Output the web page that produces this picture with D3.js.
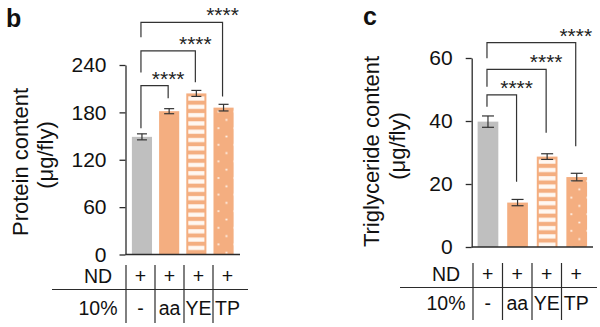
<!DOCTYPE html>
<html>
<head>
<meta charset="utf-8">
<script src="https://cdn.jsdelivr.net/npm/d3@7"></script>
<style>
  html, body { margin: 0; padding: 0; background: #fff; }
  svg { display: block; font-family: "Liberation Sans", Arial, sans-serif; }
</style>
</head>
<body>
<div id="chart"></div>
<script>
// values
const groups = ["ND", "aa", "YE", "TP"];
const ndRow = ["+", "+", "+", "+"];
const dietRow = ["-", "aa", "YE", "TP"];
const proteinMean = [149, 181.5, 204, 186];
const proteinErr = [3.8, 3.2, 3.8, 4.2];
const proteinTicks = [0, 60, 120, 180, 240];
const tgMean = [39.8, 14.1, 28.7, 22.2];
const tgErr = [1.8, 1.0, 0.9, 1.2];
const tgTicks = [0, 20, 40, 60];
const comparisons = [[0, 1], [0, 2], [0, 3]];
const sigLabel = "****";

const gray = "#bfbfbf";
const orange = "#f4ae80";
const ink = "#2b2b2b";

// layout for each panel (bracket heights in data units)
const panels = [
  {
    letter: "b", letterX: 6, letterY: 27,
    mean: proteinMean, err: proteinErr, ticks: proteinTicks,
    domain: [0, 240], yRange: [254.5, 65],
    axisX: 125.5, barRange: [125.5, 240], padIn: 0.26, padOut: 0.235, cap: 10,
    ylab: [["Protein content", 28, 162], ["(\u03bcg/fly)", 53, 155]],
    levels: [214, 258, 294], leftEnd: [160, 230.5, 275], rightEnd: [198, 218, 200],
    tableRange: [126, 242], tableY: [265, 323], rowY: [283, 315],
    sepX: [52, 248], sepY: 289.5, rowLabelX: 98
  },
  {
    letter: "c", letterX: 363, letterY: 25,
    mean: tgMean, err: tgErr, ticks: tgTicks,
    domain: [0, 60], yRange: [247, 58],
    axisX: 471.7, barRange: [471.7, 593], padIn: 0.3, padOut: 0.2, cap: 12,
    ylab: [["Triglyceride content", 379, 151.5], ["(\u03bcg/fly)", 405, 146]],
    levels: [48.3, 56.4, 64.9], leftEnd: [44.5, 50.9, 59.9], rightEnd: [20.7, 36.3, 32],
    tableRange: [473, 591], tableY: [263, 320], rowY: [281, 310],
    sepX: [400, 597], sepY: 287.5, rowLabelX: 446
  }
];

const svg = d3.select("#chart").append("svg")
  .attr("width", 600)
  .attr("height", 327);

const defs = svg.append("defs");

panels.forEach((p, pi) => {
  const y = d3.scaleLinear().domain(p.domain).range(p.yRange);
  const x = d3.scaleBand().domain(groups).range(p.barRange)
    .paddingInner(p.padIn).paddingOuter(p.padOut);
  const tx = d3.scaleBand().domain(groups).range(p.tableRange);
  const g = svg.append("g");

  // panel letter
  g.append("text")
    .attr("x", p.letterX).attr("y", p.letterY)
    .style("font-size", "25px").style("font-weight", "bold")
    .attr("fill", "#111")
    .text(p.letter);

  // fill patterns for YE (stripes) and TP (dots)
  const bw = x.bandwidth();
  const stripe = defs.append("pattern")
    .attr("id", "stripe" + pi)
    .attr("patternUnits", "userSpaceOnUse")
    .attr("x", 0).attr("y", y(p.mean[2]) + 1)
    .attr("width", 40).attr("height", 8.3);
  stripe.append("rect").attr("width", 40).attr("height", 8.3).attr("fill", orange);
  stripe.append("rect").attr("y", 2).attr("width", 40).attr("height", 4.2).attr("fill", "#fff8f2");

  const dots = defs.append("pattern")
    .attr("id", "dots" + pi)
    .attr("patternUnits", "userSpaceOnUse")
    .attr("x", x("TP")).attr("y", y(p.mean[3]))
    .attr("width", 16).attr("height", 16.6);
  dots.append("rect").attr("width", 16).attr("height", 16.6).attr("fill", orange);
  dots.append("circle").attr("cx", 5).attr("cy", 4).attr("r", 1.1).attr("fill", "#fff1e6");
  dots.append("circle").attr("cx", 13).attr("cy", 12.3).attr("r", 1.1).attr("fill", "#fff1e6");

  // bars
  const bars = g.append("g");
  groups.forEach((k, i) => {
    const x0 = x(k), y0 = y(p.mean[i]), h = y(0) - y(p.mean[i]);
    if (i === 2) {
      bars.append("rect").attr("x", x0).attr("y", y0).attr("width", bw).attr("height", h).attr("fill", orange);
      bars.append("rect").attr("x", x0 + 2).attr("y", y0 + 1).attr("width", bw - 4).attr("height", h - 1)
        .attr("fill", "url(#stripe" + pi + ")");
    } else {
      bars.append("rect").attr("x", x0).attr("y", y0).attr("width", bw).attr("height", h)
        .attr("fill", i === 0 ? gray : (i === 3 ? "url(#dots" + pi + ")" : orange));
    }
  });

  // error bars
  const eb = g.append("g").attr("stroke", "#333").attr("stroke-width", 1.2);
  groups.forEach((k, i) => {
    const cx = x(k) + bw / 2;
    const lo = y(p.mean[i] - p.err[i]), hi = y(p.mean[i] + p.err[i]);
    eb.append("line").attr("x1", cx).attr("x2", cx).attr("y1", lo).attr("y2", hi);
    eb.append("line").attr("x1", cx - p.cap / 2).attr("x2", cx + p.cap / 2).attr("y1", lo).attr("y2", lo);
    eb.append("line").attr("x1", cx - p.cap / 2).attr("x2", cx + p.cap / 2).attr("y1", hi).attr("y2", hi);
  });

  // y axis
  const yAxis = g.append("g")
    .attr("transform", `translate(${p.axisX},0)`)
    .call(d3.axisLeft(y).tickValues(p.ticks).tickSize(6).tickSizeOuter(0).tickPadding(13));
  yAxis.select(".domain").attr("stroke", ink).attr("stroke-width", 1.3);
  yAxis.selectAll(".tick line").attr("stroke", ink).attr("stroke-width", 1.3);
  yAxis.selectAll(".tick text")
    .style("font-size", "21px")
    .style("font-family", "'Liberation Sans', Arial, sans-serif")
    .attr("fill", "#111");

  // x baseline
  g.append("line")
    .attr("x1", p.axisX).attr("x2", p.barRange[1])
    .attr("y1", y(0)).attr("y2", y(0))
    .attr("stroke", ink).attr("stroke-width", 1.3);

  // y label
  p.ylab.forEach(([t, bx, cy]) => {
    g.append("text")
      .attr("transform", `translate(${bx},${cy}) rotate(-90)`)
      .attr("text-anchor", "middle")
      .style("font-size", "22px")
      .attr("fill", "#111")
      .text(t);
  });

  // significance brackets
  const br = g.append("g").attr("fill", "none").attr("stroke", "#333").attr("stroke-width", 1.2);
  comparisons.forEach(([a, b], j) => {
    const xa = x(groups[a]) + bw / 2 - 1, xb = x(groups[b]) + bw / 2 - 1;
    const ly = y(p.levels[j]);
    br.append("path")
      .attr("d", `M${xa},${y(p.leftEnd[j])}V${ly}H${xb}V${y(p.rightEnd[j])}`);
    g.append("text")
      .attr("x", xb).attr("y", ly)
      .attr("text-anchor", "middle")
      .style("font-size", "21px")
      .attr("fill", "#222")
      .text(sigLabel);
  });

  // condition table under the bars
  const tb = g.append("g");
  tb.append("line")
    .attr("x1", p.sepX[0]).attr("x2", p.sepX[1])
    .attr("y1", p.sepY).attr("y2", p.sepY)
    .attr("stroke", ink).attr("stroke-width", 1.2);
  groups.forEach((k) => {
    tb.append("line")
      .attr("x1", tx(k)).attr("x2", tx(k))
      .attr("y1", p.tableY[0]).attr("y2", p.tableY[1])
      .attr("stroke", ink).attr("stroke-width", 1.2);
  });
  [["ND", ndRow], ["10%", dietRow]].forEach(([lab, row], r) => {
    tb.append("text")
      .attr("x", p.rowLabelX).attr("y", p.rowY[r])
      .attr("text-anchor", "middle")
      .style("font-size", "19.5px").attr("fill", "#111")
      .text(lab);
    row.forEach((v, i) => {
      tb.append("text")
        .attr("x", tx(groups[i]) + tx.bandwidth() / 2)
        .attr("y", p.rowY[r])
        .attr("text-anchor", "middle")
        .style("font-size", "19.5px").attr("fill", "#111")
        .text(v);
    });
  });
});
</script>
</body>
</html>
